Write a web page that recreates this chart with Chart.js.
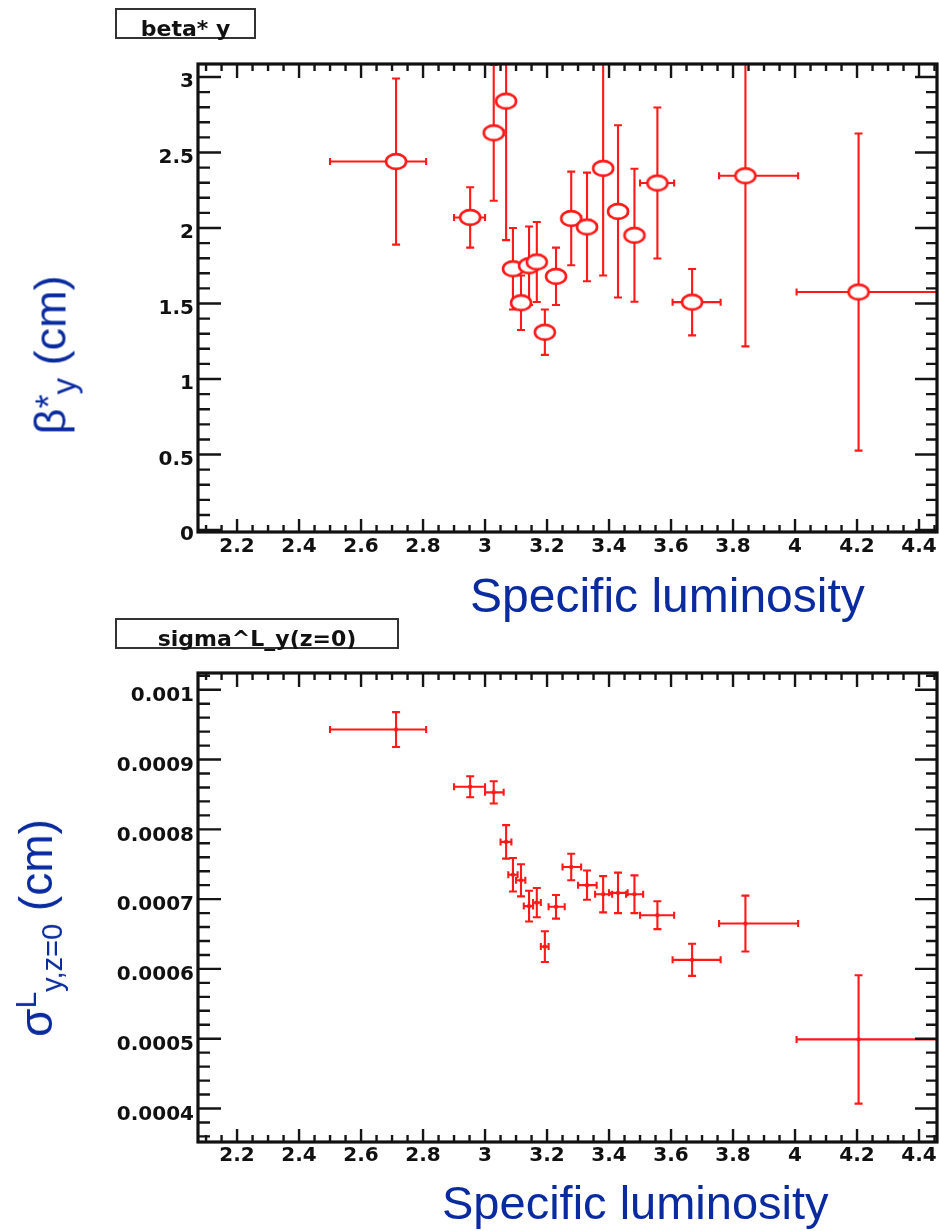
<!DOCTYPE html>
<html><head><meta charset="utf-8">
<script src="https://cdn.jsdelivr.net/npm/chart.js@4.4.0/dist/chart.umd.min.js"></script>
<style>
html,body{margin:0;padding:0;background:#fff;}
body{width:939px;height:1231px;position:relative;overflow:hidden;font-family:"Liberation Sans",Arial,sans-serif;}
canvas{position:absolute;left:0;}
#c1{top:0}
#c2{top:620px}
.hbox{position:absolute;border:2px solid #333;box-sizing:border-box;font-family:"DejaVu Sans",sans-serif;font-weight:bold;font-size:22px;color:#111;}
.hbox span{position:absolute;left:0;right:0;top:8px;line-height:1;text-align:center;white-space:nowrap;}
.ytitle{position:absolute;white-space:nowrap;color:#0a2ba0;line-height:1;transform:translate(-50%,-50%) rotate(-90deg);}
.xtitle{position:absolute;white-space:nowrap;color:#0a2ba0;line-height:1;}
</style></head><body>
<canvas id="c1" width="939" height="620"></canvas>
<canvas id="c2" width="939" height="611"></canvas>
<div class="hbox" style="left:115px;top:8px;width:141px;height:31px;"><span>beta* y</span></div>
<div class="hbox" style="left:115px;top:618px;width:284px;height:31px;"><span>sigma^L_y(z=0)</span></div>
<div class="ytitle" style="left:50px;top:355px;font-size:45px;">β<span style="font-size:36px;position:relative;top:-4px;">*</span><span style="font-size:33px;position:relative;top:10px;">y</span> (cm)</div>
<div class="ytitle" style="left:36px;top:928px;font-size:46px;">σ<span style="font-size:30px;position:relative;top:-16px;">L</span><span style="font-size:29px;position:relative;top:10px;">y,z=0</span> (cm)</div>
<div class="xtitle" style="left:470px;top:572px;font-size:48px;">Specific luminosity</div>
<div class="xtitle" style="left:442px;top:1179px;font-size:47px;">Specific luminosity</div>
<script>
// ---- data ----
const lumX   = [2.713, 2.952, 3.028, 3.068, 3.090, 3.116, 3.142, 3.167, 3.193, 3.229, 3.278, 3.329, 3.381, 3.429, 3.482, 3.556, 3.668, 3.840, 4.205];
const lumLo  = [2.500, 2.900, 3.000, 3.050, 3.075, 3.100, 3.125, 3.155, 3.180, 3.205, 3.250, 3.300, 3.355, 3.400, 3.455, 3.500, 3.605, 3.755, 4.005];
const lumHi  = [2.810, 3.000, 3.060, 3.085, 3.105, 3.130, 3.155, 3.180, 3.205, 3.257, 3.310, 3.360, 3.410, 3.460, 3.510, 3.610, 3.760, 4.010, 4.500];
const betaY  = [2.44, 2.07, 2.63, 2.84, 1.73, 1.505, 1.75, 1.775, 1.31, 1.68, 2.063, 2.007, 2.395, 2.11, 1.952, 2.298, 1.509, 2.346, 1.576];
const betaErr= [0.55, 0.20, 0.45, 0.92, 0.27, 0.18, 0.26, 0.265, 0.15, 0.19, 0.31, 0.36, 0.71, 0.57, 0.44, 0.50, 0.22, 1.13, 1.05];
const sigmaY = [0.000943, 0.000861, 0.000853, 0.000782, 0.000735, 0.000727, 0.000690, 0.000695, 0.000632, 0.000689, 0.000746, 0.000720, 0.000707, 0.000709, 0.000707, 0.000677, 0.000613, 0.000665, 0.000499];
const sigmaErr=[0.000025, 0.000015, 0.000016, 0.000024, 0.000024, 0.000023, 0.000022, 0.000021, 0.000022, 0.000017, 0.000019, 0.000021, 0.000026, 0.000029, 0.000027, 0.000020, 0.000023, 0.000040, 0.000092];
const xTicks = [2.2, 2.4, 2.6, 2.8, 3, 3.2, 3.4, 3.6, 3.8, 4, 4.2, 4.4];
const xTickLabels = ['2.2','2.4','2.6','2.8','3','3.2','3.4','3.6','3.8','4','4.2','4.4'];
const betaTicks = [0, 0.5, 1, 1.5, 2, 2.5, 3];
const betaTickLabels = ['0','0.5','1','1.5','2','2.5','3'];
const sigmaTicks = [0.0004, 0.0005, 0.0006, 0.0007, 0.0008, 0.0009, 0.001];
const sigmaTickLabels = ['0.0004','0.0005','0.0006','0.0007','0.0008','0.0009','0.001'];

const RED = 'rgb(255,25,25)';
const tickFont = {family:'DejaVu Sans', weight:'bold', size:20};

// hollow ellipse marker
const ell = document.createElement('canvas');
ell.width = 26; ell.height = 21;
(function(){const c=ell.getContext('2d');c.beginPath();c.ellipse(13,10.5,10,7.4,0,0,Math.PI*2);c.fillStyle='#fff';c.fill();c.lineWidth=2.6;c.strokeStyle=RED;c.stroke();})();

const errorBars = {
  id:'errorBars',
  beforeDatasetsDraw(chart){
    const {ctx, chartArea:a, scales:{x, y}} = chart;
    const o = chart.options.plugins.errorBars;
    ctx.save();
    ctx.beginPath(); ctx.rect(a.left, a.top, a.right-a.left, a.bottom-a.top); ctx.clip();
    ctx.strokeStyle = RED; ctx.lineWidth = o.lw; ctx.lineCap='butt';
    const ds = chart.data.datasets[0];
    ds.data.forEach((p,i)=>{
      const px = x.getPixelForValue(p.x), py = y.getPixelForValue(p.y);
      const yt = y.getPixelForValue(p.y + o.err[i]), yb = y.getPixelForValue(p.y - o.err[i]);
      const xl = x.getPixelForValue(o.lo[i]), xr = x.getPixelForValue(o.hi[i]);
      ctx.beginPath();
      ctx.moveTo(px, yt); ctx.lineTo(px, yb);
      ctx.moveTo(xl, py); ctx.lineTo(xr, py);
      ctx.moveTo(px-o.cap, yt); ctx.lineTo(px+o.cap, yt);
      ctx.moveTo(px-o.cap, yb); ctx.lineTo(px+o.cap, yb);
      ctx.moveTo(xl, py-o.capH); ctx.lineTo(xl, py+o.capH);
      ctx.moveTo(xr, py-o.capH); ctx.lineTo(xr, py+o.capH);
      ctx.stroke();
    });
    ctx.restore();
  }
};

const rootFrame = {
  id:'rootFrame',
  afterDraw(chart){
    const {ctx, chartArea:a, scales:{x, y}} = chart;
    const o = chart.options.plugins.rootFrame;
    ctx.save();
    ctx.strokeStyle = '#151515';
    ctx.lineWidth = 2.4;
    const isMajor = (v, arr, st) => arr.some(m => Math.abs(m - v) < st/10);
    const xs = o.xMinor;
    for (let i = Math.ceil(x.min/xs); i*xs <= x.max + 1e-12; i++) {
      const v = i*xs, px = x.getPixelForValue(v);
      const maj = isMajor(v, xTicks, xs);
      ctx.beginPath();
      ctx.moveTo(px, a.bottom); ctx.lineTo(px, a.bottom - (maj?13:7));
      ctx.moveTo(px, a.top); ctx.lineTo(px, a.top + (maj?14:7));
      ctx.stroke();
    }
    const ys = o.yMinor;
    for (let i = Math.ceil(y.min/ys - 1e-9); i*ys <= y.max + ys*1e-6; i++) {
      const v = i*ys, py = y.getPixelForValue(v);
      const maj = isMajor(v, o.yMajor, ys);
      ctx.beginPath();
      ctx.moveTo(a.left, py); ctx.lineTo(a.left + (maj?23:12), py);
      ctx.moveTo(a.right, py); ctx.lineTo(a.right - (maj?22:11), py);
      ctx.stroke();
    }
    ctx.lineWidth = 3.2;
    ctx.strokeStyle = '#111';
    ctx.strokeRect(a.left, a.top, a.right-a.left, a.bottom-a.top);
    ctx.restore();
  }
};

function makeChart(id, cfg){
  return new Chart(document.getElementById(id), {
    type:'scatter',
    data:{datasets:[{
      data: lumX.map((v,i)=>({x:v, y:cfg.vals[i]})),
      pointStyle: cfg.pointStyle, pointRadius: cfg.pointRadius,
      backgroundColor: cfg.pointBg, borderColor: RED, borderWidth: cfg.pointBorder,
      showLine:false
    }]},
    options:{
      responsive:false, animation:false, events:[],
      layout:{autoPadding:false, padding:{left:0, top:cfg.padTop, right:2, bottom:0}},
      plugins:{legend:{display:false}, tooltip:{enabled:false},
        errorBars:{err:cfg.errs, lo:lumLo, hi:lumHi, lw:2.1, cap:4, capH:3.5},
        rootFrame:{xMinor:0.05, yMinor:cfg.yMinor, yMajor:cfg.yTicks}},
      scales:{
        x:{type:'linear', min:2.074, max:4.458,
           grid:{display:false, drawTicks:false}, border:{display:false},
           afterBuildTicks:s=>{s.ticks = xTicks.map(v=>({value:v}));},
           afterFit:s=>{s.height = cfg.xH; s.paddingLeft = 0; s.paddingRight = 0;},
           ticks:{autoSkip:false, maxRotation:0, minRotation:0, padding:cfg.xPad, font:tickFont, color:'#111',
                  callback:(v,i)=>xTickLabels[i]}},
        y:{type:'linear', min:cfg.yMin, max:cfg.yMax,
           grid:{display:false, drawTicks:false}, border:{display:false},
           afterBuildTicks:s=>{s.ticks = cfg.yTicks.map(v=>({value:v}));},
           afterFit:s=>{s.width = 198; s.paddingTop = 0; s.paddingBottom = 0;},
           ticks:{autoSkip:false, padding:4, labelOffset:cfg.yOff, font:tickFont, color:'#111',
                  callback:(v,i)=>cfg.yLabels[i]}}
      }
    },
    plugins:[errorBars, rootFrame]
  });
}

makeChart('c1', {vals:betaY, errs:betaErr, pointStyle:ell, pointRadius:10, pointBg:'#fff', pointBorder:0,
  padTop:64, xH:88, xPad:3, yMin:-0.013, yMax:3.086, yMinor:0.1, yTicks:betaTicks, yLabels:betaTickLabels, yOff:5});
makeChart('c2', {vals:sigmaY, errs:sigmaErr, pointStyle:'rect', pointRadius:2.5, pointBg:RED, pointBorder:0,
  padTop:53, xH:89, xPad:2, yMin:0.000352, yMax:0.001024, yMinor:0.00002, yTicks:sigmaTicks, yLabels:sigmaTickLabels, yOff:6});
</script>
</body></html>
